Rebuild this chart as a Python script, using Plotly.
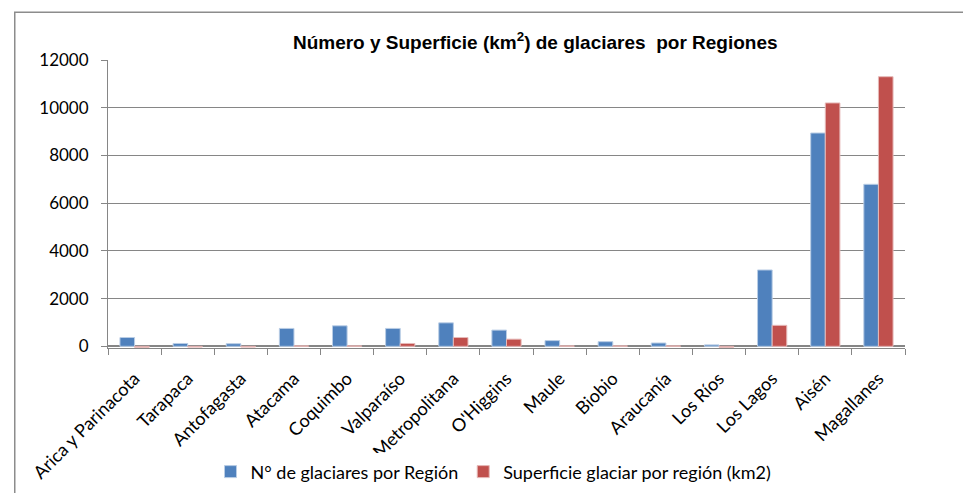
import plotly.graph_objects as go

regiones = ["Arica y Parinacota", "Tarapaca", "Antofagasta", "Atacama", "Coquimbo",
            "Valparaíso", "Metropolitana", "O'Higgins", "Maule", "Biobio",
            "Araucanía", "Los Ríos", "Los Lagos", "Aisén", "Magallanes"]
n_glaciares = [370, 120, 110, 750, 860, 750, 985, 680, 240, 195, 140, 60, 3200, 8940, 6790]
superficie = [-40, -30, -30, 20, 20, 120, 370, 300, 20, 20, 20, -40, 880, 10200, 11300]

fig = go.Figure()
fig.add_trace(go.Bar(x=regiones, y=n_glaciares, name="N° de glaciares por Región",
                     marker=dict(color="#4F81BD", line=dict(color="#B9CDE5", width=1))))
fig.add_trace(go.Bar(x=regiones, y=superficie, name="Superficie glaciar por región (km2)",
                     marker=dict(color="#C0504D", line=dict(color="#E6B9B8", width=1))))

# marco exterior del grafico
fig.add_shape(type="rect", xref="paper", yref="paper", x0=-0.117, y0=-0.6, x1=1.1, y1=1.166,
              line=dict(color="#8C8C8C", width=1.5), layer="below")

fig.update_layout(
    width=971, height=493,
    margin=dict(l=100, r=74, t=52, b=153, autoexpand=False),
    paper_bgcolor="white", plot_bgcolor="white",
    barmode="group", bargap=0.45, bargroupgap=0,
    title=dict(text="<b>Número y Superficie (km<sup>2</sup>) de glaciares  por Regiones</b>",
               x=0.543, xanchor="center", y=0.931, yanchor="middle",
               font=dict(family="Liberation Sans", size=19, color="black")),
    font=dict(family="Lato", size=16, color="black"),
    showlegend=True,
    legend=dict(orientation="h", xref="container", yref="container",
                x=0.50, xanchor="center", y=0.059, yanchor="middle",
                font=dict(family="Lato", size=18), itemwidth=30),
    xaxis=dict(tickangle=-45, showline=True, linecolor="#868686", linewidth=1,
               ticks="outside", tickson="boundaries", ticklen=6, tickcolor="#868686",
               showgrid=False, tickfont=dict(family="Lato", size=18),
               ticklabelstandoff=12, automargin=False),
    yaxis=dict(range=[-70, 12000], tickvals=[0, 2000, 4000, 6000, 8000, 10000, 12000],
               tickformat="d", showgrid=True, gridcolor="#868686", gridwidth=1,
               showline=True, linecolor="#868686", linewidth=1, ticks="outside", ticklen=6,
               tickcolor="#868686", zeroline=True, zerolinecolor="#868686",
               tickfont=dict(family="Lato", size=17), ticklabelstandoff=9, automargin=False),
)

fig.write_html("out.html")
